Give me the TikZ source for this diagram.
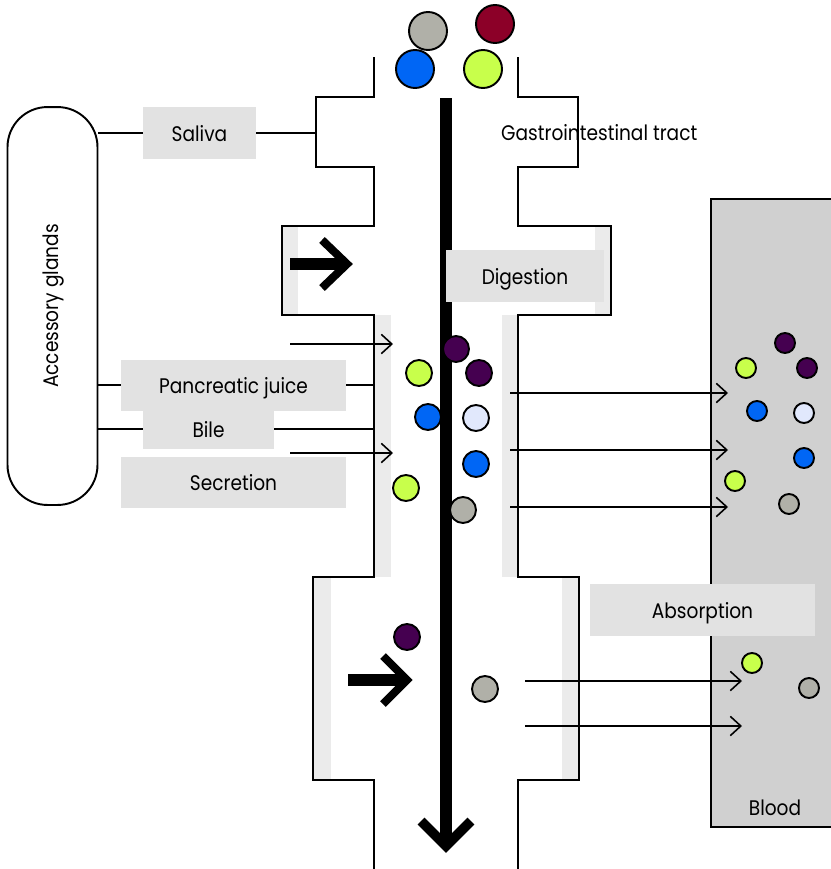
\documentclass[tikz,border=0pt]{standalone}
\usepackage{fontspec}
\setmainfont{Poppins}[FakeStretch=0.88]
\usetikzlibrary{arrows.meta}
\definecolor{boxgray}{HTML}{E2E2E2}
\definecolor{linegray}{HTML}{EBEBEB}
\definecolor{bloodgray}{HTML}{D0D0D0}
\definecolor{ballgray}{HTML}{B0B0A8}
\definecolor{ballred}{HTML}{8C0028}
\definecolor{ballblue}{HTML}{0066F5}
\definecolor{balllime}{HTML}{C8FF4B}
\definecolor{ballpurple}{HTML}{450050}
\definecolor{ballpale}{HTML}{E1E8FC}
\def\ball[#1](#2)(#3){\draw[line width=1.1pt,fill=#1] (#2) circle[radius=#3];}

\begin{document}
\begin{tikzpicture}[x=0.02cm,y=-0.02cm,font=\fontsize{12}{14}\selectfont,
	every node/.style={text height=1em,text depth=0pt},
	wall/.style={line width=1.1pt},
	lbl/.style={fill=boxgray,inner sep=0pt},
	feed/.style={line width=0.9pt,-{Straight Barb[length=6pt,width=11pt]}}]
			%%%%% START %%%%%
			\def\xl{374}
			\def\xr{518}
			\def\rbig{19}
			\def\rmid{13}
			\def\rsm{10}
			\useasboundingbox (0,0) rectangle (831,869);

			% lining of the tract
			\fill[linegray] (282,226) rectangle (298,315);
			\fill[linegray] (595,226) rectangle (611,315);
			\fill[linegray] (\xl,315) rectangle (391,577);
			\fill[linegray] (502,315) rectangle (\xr,577);
			\fill[linegray] (313,577) rectangle (331,780);
			\fill[linegray] (562,577) rectangle (579,780);

			\draw[wall,fill=bloodgray] (711,199) rectangle (835,827);
			\node (blood) at (775,807) {Blood};

			\node[anchor=west] (tract) at (495,132) {Gastrointestinal tract};

			\draw[wall] (\xl,57) -- (\xl,97) -- (316,97) -- (316,167) -- (\xl,167) -- (\xl,226) -- (282,226) -- (282,315) -- (\xl,315) -- (\xl,577) -- (313,577) -- (313,780) -- (\xl,780) -- (\xl,870);
			\draw[wall] (\xr,57) -- (\xr,97) -- (578,97) -- (578,167) -- (\xr,167) -- (\xr,226) -- (611,226) -- (611,315) -- (\xr,315) -- (\xr,577) -- (579,577) -- (579,780) -- (\xr,780) -- (\xr,870);

			\draw[line width=6.8pt] (446,98) -- (446,840);
			\draw[line width=5.5pt] (421,821) -- (446,846) -- (471,821);

			\draw[line width=7pt] (290,264) -- (346,264);
			\draw[line width=4.6pt] (322,240) -- (347,264) -- (322,288);
			\draw[line width=7pt] (348,680) -- (406,680);
			\draw[line width=4.6pt] (383,656) -- (407,680) -- (383,704);

			\node[draw,wall,rounded corners=0.8cm,rotate=90,text height=0.7em,minimum width=7.96cm,minimum height=1.8cm] (glands) at (52.5,306) {Accessory glands};
			\node[lbl,minimum width=2.26cm,minimum height=1.04cm] (saliva) at (199.5,133) {Saliva};
			\node[lbl,minimum width=4.5cm,minimum height=1.02cm] (pancreas) at (233.5,385) {Pancreatic juice};
			\node[lbl,minimum width=2.62cm,minimum height=0.78cm] (bile) at (208.5,429) {Bile};
			\node[lbl,minimum width=4.5cm,minimum height=1.02cm] (secretion) at (233.5,482) {Secretion};
			\node[lbl,minimum width=3.16cm,minimum height=1.04cm] (digestion) at (525,276) {Digestion};
			\node[lbl,minimum width=4.5cm,minimum height=1.04cm] (absorption) at (702.5,610) {Absorption};

			\coordinate (wsal) at (316,0);
			\coordinate (wmid) at (\xl,0);
			\draw[wall] (glands.south |- saliva) -- (saliva) -- (saliva -| wsal);
			\draw[wall] (glands.south |- pancreas) -- (pancreas) -- (pancreas -| wmid);
			\draw[wall] (glands.south |- bile) -- (bile) -- (bile -| wmid);

			% secretion into the tract
			\foreach \y [count=\i] in {344,453} {
				\coordinate (sec\i) at (290,\y);
				\coordinate (tr\i) at (393,\y);
				\draw[feed] (sec\i) -- (tr\i);
			}
			% absorption into the blood
			\foreach \y [count=\i] in {393,450,507} {
				\coordinate (dig\i) at (510,\y);
				\coordinate (bl\i) at (728,\y);
				\draw[feed] (dig\i) -- (bl\i);
			}
			\foreach \y [count=\i] in {681,726} {
				\coordinate (abs\i) at (525,\y);
				\coordinate (blo\i) at (742,\y);
				\draw[feed] (abs\i) -- (blo\i);
			}

			% food
			\ball[ballgray](428,31)(\rbig)
			\ball[ballred](495,24)(\rbig)
			\ball[ballblue](415,69)(\rbig)
			\ball[balllime](483,69)(\rbig)

			\ball[ballpurple](456,349)(\rmid)
			\ball[balllime](419,373)(\rmid)
			\ball[ballpurple](479,373)(\rmid)
			\ball[ballblue](428,417)(\rmid)
			\ball[ballpale](476,418)(\rmid)
			\ball[ballblue](476,464)(\rmid)
			\ball[balllime](406,488)(\rmid)
			\ball[ballgray](463,510)(\rmid)
			\ball[ballpurple](407,637)(\rmid)
			\ball[ballgray](485,689)(\rmid)

			\ball[ballpurple](785,343)(\rsm)
			\ball[balllime](746,368)(\rsm)
			\ball[ballpurple](807,368)(\rsm)
			\ball[ballblue](757,411)(\rsm)
			\ball[ballpale](804,413)(\rsm)
			\ball[ballblue](804,458)(\rsm)
			\ball[balllime](735,481)(\rsm)
			\ball[ballgray](789,504)(\rsm)
			\ball[balllime](752,663)(\rsm)
			\ball[ballgray](809,688)(\rsm)
			%%%%% END %%%%%
\end{tikzpicture}
\end{document}
